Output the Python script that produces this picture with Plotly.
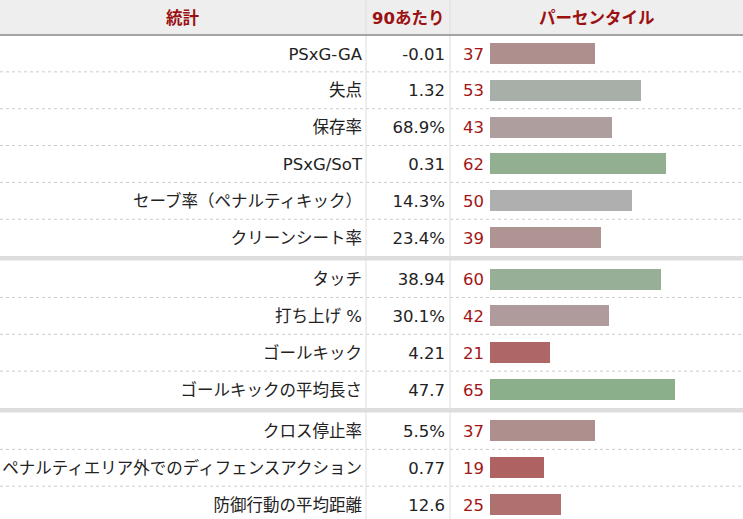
import plotly.graph_objects as go

# scouting report rows (goalkeeper), three groups
stats = ["PSxG-GA", "失点", "保存率", "PSxG/SoT", "セーブ率（ペナルティキック）", "クリーンシート率",
         "タッチ", "打ち上げ %", "ゴールキック", "ゴールキックの平均長さ",
         "クロス停止率", "ペナルティエリア外でのディフェンスアクション", "防御行動の平均距離"]
per90 = ["-0.01", "1.32", "68.9%", "0.31", "14.3%", "23.4%",
         "38.94", "30.1%", "4.21", "47.7",
         "5.5%", "0.77", "12.6"]
percentile = [37, 53, 43, 62, 50, 39,
              60, 42, 21, 65,
              37, 19, 25]
group = [0, 0, 0, 0, 0, 0, 1, 1, 1, 1, 2, 2, 2]
headers = ["統計", "90あたり", "パーセンタイル"]

W, H = 743, 519
HEAD = 35
ROW = 36.85
SEP = 4.5
COL1, COL2 = 366, 450
BAR_X0 = 490
PX_PER_PCT = 2.845
TXT_DY = 2  # text sits a bit low in the cells

FONT = "DejaVu Sans, Noto Sans CJK JP, sans-serif"
FS = 16.5
RED = "#a31515"


def bar_color(p):
    if p >= 50:
        t = (p - 50) / 50
        v = round(175 - 120 * t)
        return f"rgb({v},175,{v})"
    t = (50 - p) / 50
    v = round(175 - 125 * t)
    return f"rgb(175,{v},{v})"


tops = [HEAD + i * ROW + g * SEP for i, g in enumerate(group)]
centers = [t + ROW / 2 for t in tops]
text_y = [c + TXT_DY for c in centers]

fig = go.Figure()

fig.add_trace(go.Bar(
    x=percentile, y=centers, orientation="h", width=21,
    marker=dict(color=[bar_color(p) for p in percentile], line=dict(width=0)),
    xaxis="x2", yaxis="y", hoverinfo="skip", showlegend=False))

fig.add_trace(go.Scatter(
    x=[362] * len(stats), y=text_y, text=stats, mode="text",
    textposition="middle left", textfont=dict(family=FONT, size=FS, color="#222"),
    hoverinfo="skip", showlegend=False))
fig.add_trace(go.Scatter(
    x=[445] * len(per90), y=text_y, text=per90, mode="text",
    textposition="middle left", textfont=dict(family=FONT, size=FS, color="#222"),
    hoverinfo="skip", showlegend=False))
fig.add_trace(go.Scatter(
    x=[484] * len(percentile), y=text_y, text=[str(p) for p in percentile], mode="text",
    textposition="middle left", textfont=dict(family=FONT, size=FS, color=RED),
    hoverinfo="skip", showlegend=False))

shapes = [
    dict(type="rect", x0=0, x1=W, y0=0, y1=HEAD, fillcolor="#eeeeee",
         line=dict(width=0), layer="below"),
]
# row dividers
for i in range(len(stats) - 1):
    bottom = tops[i] + ROW
    if group[i + 1] != group[i]:
        shapes.append(dict(type="line", x0=0, x1=W, y0=bottom + SEP / 2, y1=bottom + SEP / 2,
                           line=dict(color="#dddddd", width=SEP)))
    else:
        shapes.append(dict(type="line", x0=0, x1=W, y0=bottom, y1=bottom,
                           line=dict(color="#cccccc", width=1, dash="dot")))
for cx in (COL1, COL2):
    shapes.append(dict(type="line", x0=cx, x1=cx, y0=0, y1=H,
                       line=dict(color="#dddddd", width=1)))
shapes.append(dict(type="line", x0=0, x1=W, y0=HEAD, y1=HEAD,
                   line=dict(color="#888888", width=1.5)))

annotations = []
for txt, cx in zip(headers, [COL1 / 2, (COL1 + COL2) / 2, (COL2 + W) / 2]):
    annotations.append(dict(x=cx, y=HEAD / 2 + 1, text=f"<b>{txt}</b>", showarrow=False,
                            xref="x", yref="y",
                            font=dict(family=FONT, size=FS, color="#9b1111")))

fig.update_layout(
    width=W, height=H, margin=dict(l=0, r=0, t=0, b=0),
    paper_bgcolor="white", plot_bgcolor="rgba(0,0,0,0)",
    xaxis=dict(range=[0, W], visible=False, fixedrange=True),
    xaxis2=dict(range=[0, (W - BAR_X0) / PX_PER_PCT], domain=[BAR_X0 / W, 1],
                anchor="y", visible=False, fixedrange=True),
    yaxis=dict(range=[H, 0], visible=False, fixedrange=True),
    shapes=shapes, annotations=annotations, bargap=0,
)

fig.write_html("out.html", config={"displayModeBar": False},
               post_script="document.body.style.margin='0';")
